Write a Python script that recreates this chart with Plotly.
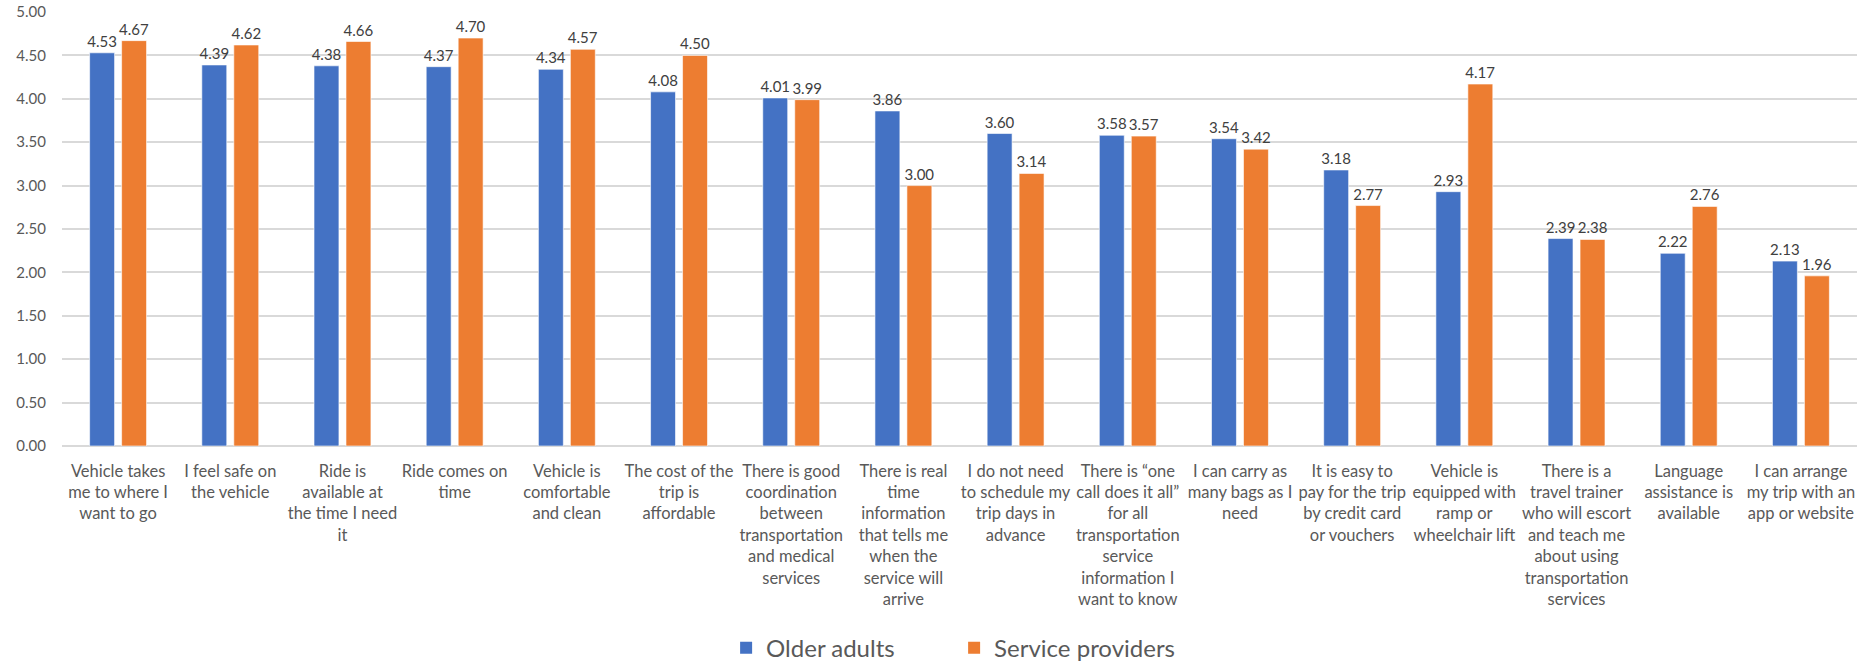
import plotly.graph_objects as go

categories = [
    "Vehicle takes\nme to where I\nwant to go",
    "I feel safe on\nthe vehicle",
    "Ride is\navailable at\nthe time I need\nit",
    "Ride comes on\ntime",
    "Vehicle is\ncomfortable\nand clean",
    "The cost of the\ntrip is\naffordable",
    "There is good\ncoordination\nbetween\ntransportation\nand medical\nservices",
    "There is real\ntime\ninformation\nthat tells me\nwhen the\nservice will\narrive",
    "I do not need\nto schedule my\ntrip days in\nadvance",
    "There is \u201cone\ncall does it all\u201d\nfor all\ntransportation\nservice\ninformation I\nwant to know",
    "I can carry as\nmany bags as I\nneed",
    "It is easy to\npay for the trip\nby credit card\nor vouchers",
    "Vehicle is\nequipped with\nramp or\nwheelchair lift",
    "There is a\ntravel trainer\nwho will escort\nand teach me\nabout using\ntransportation\nservices",
    "Language\nassistance is\navailable",
    "I can arrange\nmy trip with an\napp or website",
]
older_adults = [4.53, 4.39, 4.38, 4.37, 4.34, 4.08, 4.01, 3.86, 3.60, 3.58, 3.54, 3.18, 2.93, 2.39, 2.22, 2.13]
service_providers = [4.67, 4.62, 4.66, 4.70, 4.57, 4.50, 3.99, 3.00, 3.14, 3.57, 3.42, 2.77, 4.17, 2.38, 2.76, 1.96]
y_ticks = [0, 0.5, 1, 1.5, 2, 2.5, 3, 3.5, 4, 4.5, 5]

series_names = ["Older adults", "Service providers"]
colors = ["#4472C4", "#ED7D31"]

labels = [c.replace("\n", "<br>") for c in categories]
font_family = "Lato, 'Open Sans', sans-serif"

fig = go.Figure()
for name, vals, col in zip(series_names, [older_adults, service_providers], colors):
    fig.add_trace(go.Bar(
        x=labels, y=vals, name=name,
        marker=dict(color=col, line=dict(color="rgba(255,255,255,0.6)", width=1)),
        text=[f"{v:.2f}" for v in vals], textposition="outside",
        textfont=dict(size=15, color="#404040", family=font_family),
        constraintext="none", cliponaxis=False, showlegend=False,
    ))
    fig.add_trace(go.Scatter(
        x=[None], y=[None], mode="markers", name=name,
        marker=dict(symbol="square", size=20, color=col),
    ))

fig.update_layout(
    width=1872, height=662,
    margin=dict(l=62, r=15, t=12, b=216, autoexpand=False),
    plot_bgcolor="white", paper_bgcolor="white",
    barmode="group", bargap=0.43, bargroupgap=0.22,
    font=dict(family=font_family, color="#595959"),
    legend=dict(orientation="h", x=0.497, xanchor="center",
                yref="container", y=0.021, yanchor="middle",
                entrywidth=183, entrywidthmode="pixels",
                font=dict(size=24, color="#595959"), itemsizing="constant"),
    showlegend=True,
)
fig.update_yaxes(range=[0, 5], tickvals=y_ticks, tickformat=".2f",
                 showgrid=True, gridcolor="#D9D9D9", gridwidth=1.5,
                 zeroline=True, zerolinecolor="#D9D9D9", zerolinewidth=1.5,
                 tickfont=dict(size=15, color="#595959"), ticklabelstandoff=15,
                 automargin=False)
fig.update_xaxes(tickfont=dict(size=16.5, color="#595959"), tickangle=0,
                 showline=False, ticks="", ticklabelstandoff=13, automargin=False)

fig.write_html("out.html")
